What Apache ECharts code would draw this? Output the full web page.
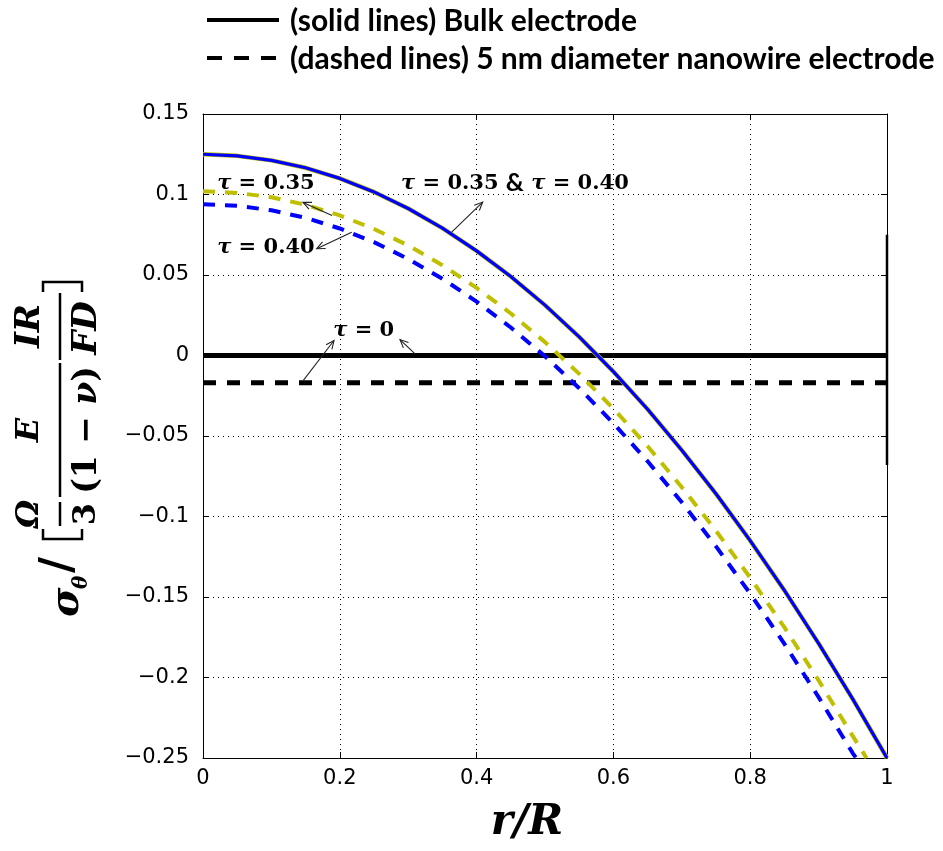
<!DOCTYPE html>
<html>
<head>
<meta charset="utf-8">
<script src="https://cdn.jsdelivr.net/npm/echarts@6/dist/echarts.min.js"></script>
<style>
  html, body { margin: 0; padding: 0; background: #fff; }
  #chart { width: 943px; height: 851px; }
</style>
</head>
<body>
<div id="chart"></div>
<script>
// Radial position r/R and normalised hoop stress for each case
const rBulk = [0, 0.05, 0.1, 0.15, 0.2, 0.25, 0.3, 0.35, 0.4, 0.45, 0.5, 0.55, 0.6, 0.65, 0.7, 0.75, 0.8, 0.85, 0.9, 0.95, 1];
// bulk electrode, tau = 0.35 and tau = 0.40 give the same profile
const sigmaBulkTau035 = [0.125, 0.124, 0.1212, 0.1166, 0.110, 0.1016, 0.0913, 0.0791, 0.065, 0.0491, 0.0313, 0.0116, -0.010, -0.0334, -0.0588, -0.0859, -0.115, -0.1459, -0.1788, -0.2134, -0.250];
const sigmaBulkTau040 = [0.125, 0.124, 0.1212, 0.1166, 0.110, 0.1016, 0.0913, 0.0791, 0.065, 0.0491, 0.0313, 0.0116, -0.010, -0.0334, -0.0588, -0.0859, -0.115, -0.1459, -0.1788, -0.2134, -0.250];

const rNanoTau035 = [0, 0.05, 0.1, 0.15, 0.2, 0.25, 0.3, 0.35, 0.4, 0.45, 0.5, 0.55, 0.6, 0.65, 0.7, 0.75, 0.8, 0.85, 0.9, 0.95, 0.97];
const sigmaNanoTau035 = [0.102, 0.101, 0.0983, 0.0936, 0.087, 0.0786, 0.0683, 0.0561, 0.042, 0.0261, 0.0083, -0.0114, -0.033, -0.0564, -0.0818, -0.1089, -0.138, -0.1689, -0.2018, -0.2364, -0.250];

const rNanoTau040 = [0, 0.05, 0.1, 0.15, 0.2, 0.25, 0.3, 0.35, 0.4, 0.45, 0.5, 0.55, 0.6, 0.65, 0.7, 0.75, 0.8, 0.85, 0.9, 0.95, 0.955];
const sigmaNanoTau040 = [0.094, 0.093, 0.0902, 0.0855, 0.0789, 0.0704, 0.060, 0.0477, 0.0335, 0.0174, -0.0005, -0.0203, -0.0421, -0.0657, -0.0912, -0.1186, -0.1479, -0.1791, -0.2122, -0.2471, -0.250];

// tau = 0: uniform profiles
const rTau0 = [0, 1];
const sigmaBulkTau0 = [0, 0];
const sigmaNanoTau0 = [-0.017, -0.017];

// short vertical segment on the outer surface r/R = 1
const rEdge = [1, 1];
const sigmaEdge = [0.075, -0.068];

// axis ticks
const xTicks = [0, 0.2, 0.4, 0.6, 0.8, 1];
const xTickLabels = ['0', '0.2', '0.4', '0.6', '0.8', '1'];
const yTicks = [-0.25, -0.2, -0.15, -0.1, -0.05, 0, 0.05, 0.1, 0.15];
const yTickLabels = ['\u22120.25', '\u22120.2', '\u22120.15', '\u22120.1', '\u22120.05', '0', '0.05', '0.1', '0.15'];

// annotation texts [r, sigma, text] and arrows [r1, s1, r2, s2] (head at r2, s2)
const noteTexts = [
  [0.092, 0.107, '{t|\u03c4}{n| = 0.35}'],
  [0.092, 0.067, '{t|\u03c4}{n| = 0.40}'],
  [0.456, 0.107, '{t|\u03c4}{n| = 0.35 }{a|&}{t| \u03c4}{n| = 0.40}'],
  [0.235, 0.0155, '{t|\u03c4}{n| = 0}']
];
const noteArrows = [
  [0.1886, 0.0870, 0.1462, 0.0951],
  [0.2174, 0.0766, 0.1662, 0.0663],
  [0.3636, 0.0766, 0.4089, 0.0953],
  [0.1467, -0.0155, 0.1915, 0.0093],
  [0.3100, 0.0010, 0.2880, 0.0099]
];

const zip = (xs, ys) => xs.map((x, i) => [x, ys[i]]);
const fmt = (ticks, labels) => (v) => {
  const i = ticks.findIndex(t => Math.abs(t - v) < 1e-9);
  return i >= 0 ? labels[i] : '';
};

const BLUE = '#0000ff';
const YELLOW = '#bfbf00';
const SERIF = '"DejaVu Serif", "Liberation Serif", serif';
const SANS = '"DejaVu Sans", "Liberation Sans", sans-serif';

const chart = echarts.init(document.getElementById('chart'), null, { renderer: 'canvas' });

const gridLine = { show: true, lineStyle: { color: '#000', width: 1, type: [1, 4] } };
const insideTick = { show: true, inside: true, length: 6, lineStyle: { color: '#000', width: 1 } };
const axisLineStyle = { show: true, onZero: false, lineStyle: { color: '#000', width: 1 } };

const curve = (name, xs, ys, color, width, dash, z) => ({
  name, type: 'line', data: zip(xs, ys), showSymbol: false, symbol: 'none',
  smooth: false, clip: true, z,
  lineStyle: { color, width, type: dash || 'solid', cap: 'butt', join: 'round' }
});

const option = {
  backgroundColor: '#fff',
  animation: false,
  grid: { left: 203, top: 114, right: 56, bottom: 93, containLabel: false },
  xAxis: [
    {
      type: 'value', min: 0, max: 1, interval: 0.2, position: 'bottom',
      axisLine: axisLineStyle, axisTick: insideTick, splitLine: gridLine,
      axisLabel: { color: '#000', fontSize: 21, fontFamily: SANS, margin: 10, formatter: fmt(xTicks, xTickLabels) }
    },
    {
      type: 'value', min: 0, max: 1, interval: 0.2, position: 'top',
      axisLine: axisLineStyle, axisTick: insideTick, splitLine: { show: false }, axisLabel: { show: false }
    }
  ],
  yAxis: [
    {
      type: 'value', min: -0.25, max: 0.15, interval: 0.05, position: 'left',
      axisLine: axisLineStyle, axisTick: insideTick, splitLine: gridLine,
      axisLabel: { color: '#000', fontSize: 21, fontFamily: SANS, margin: 14, formatter: fmt(yTicks, yTickLabels) }
    },
    {
      type: 'value', min: -0.25, max: 0.15, interval: 0.05, position: 'right',
      axisLine: axisLineStyle, axisTick: insideTick, splitLine: { show: false }, axisLabel: { show: false }
    }
  ],
  series: [
    curve('bulk tau=0', rTau0, sigmaBulkTau0, '#000', 5, 'solid', 3),
    curve('nanowire tau=0', rTau0, sigmaNanoTau0, '#000', 5, [13, 11], 3),
    curve('edge', rEdge, sigmaEdge, '#000', 2.5, 'solid', 3),
    curve('bulk tau=0.35', rBulk, sigmaBulkTau035, YELLOW, 4.5, 'solid', 4),
    curve('bulk tau=0.40', rBulk, sigmaBulkTau040, BLUE, 3.2, 'solid', 5),
    curve('nanowire tau=0.35', rNanoTau035, sigmaNanoTau035, YELLOW, 4, [12, 10], 4),
    curve('nanowire tau=0.40', rNanoTau040, sigmaNanoTau040, BLUE, 4, [12, 10], 4),
    {
      name: 'arrows', type: 'custom', z: 6, silent: true, clip: false,
      data: noteArrows,
      encode: { x: [0, 2], y: [1, 3] },
      renderItem: (params, api) => {
        const p1 = api.coord([api.value(0), api.value(1)]);
        const p2 = api.coord([api.value(2), api.value(3)]);
        const ang = Math.atan2(p2[1] - p1[1], p2[0] - p1[0]);
        const L = 9, spread = 0.42;
        const a1 = [p2[0] - L * Math.cos(ang - spread), p2[1] - L * Math.sin(ang - spread)];
        const a2 = [p2[0] - L * Math.cos(ang + spread), p2[1] - L * Math.sin(ang + spread)];
        const st = { stroke: '#222', lineWidth: 1.1, fill: null };
        return {
          type: 'group',
          children: [
            { type: 'line', shape: { x1: p1[0], y1: p1[1], x2: p2[0], y2: p2[1] }, style: st },
            { type: 'polyline', shape: { points: [a1, p2, a2] }, style: st }
          ]
        };
      }
    },
    {
      name: 'notes', type: 'scatter', z: 7, silent: true, symbolSize: 0,
      itemStyle: { opacity: 1 },
      data: noteTexts,
      label: {
        show: true, position: 'inside', color: '#000', opacity: 1, textBorderWidth: 0,
        formatter: (p) => p.data[2],
        rich: {
          t: { fontFamily: SERIF, fontWeight: 'bold', fontStyle: 'italic', fontSize: 21, color: '#000' },
          n: { fontFamily: SERIF, fontWeight: 'bold', fontSize: 21, color: '#000' },
          a: { fontFamily: 'Lato, ' + SANS, fontWeight: 'bold', fontSize: 25, color: '#000' }
        }
      }
    }
  ],
  graphic: [
    // top key for line styles
    { type: 'line', shape: { x1: 207, y1: 20, x2: 279, y2: 20 }, style: { stroke: '#000', lineWidth: 4 } },
    { type: 'line', shape: { x1: 207, y1: 58, x2: 279, y2: 58 }, style: { stroke: '#000', lineWidth: 4, lineDash: [15, 12] } },
    { type: 'text', x: 290, y: 21, style: { text: '(solid lines) Bulk electrode', font: 'bold 30px Lato, sans-serif', fill: '#000', verticalAlign: 'middle' } },
    { type: 'text', x: 290, y: 59, style: { text: '(dashed lines) 5 nm diameter nanowire electrode', font: 'bold 30px Lato, sans-serif', fill: '#000', verticalAlign: 'middle' } },
    // x-axis title
    {
      type: 'text', x: 527, y: 823,
      style: { text: 'r/R', font: 'bold italic 42px ' + SERIF, fill: '#000', align: 'center', verticalAlign: 'middle' }
    },
    // y-axis title, written along the rotated baseline
    {
      type: 'group', x: 60, y: 617, rotation: Math.PI / 2,
      children: [
        { type: 'text', x: 0, y: 8, style: { text: '\u03c3', font: 'bold italic 40px ' + SERIF, fill: '#000', align: 'left', verticalAlign: 'middle' } },
        { type: 'text', x: 28, y: 22, style: { text: '\u03b8', font: 'bold italic 20px ' + SERIF, fill: '#000', align: 'left', verticalAlign: 'middle' } },
        { type: 'text', x: 44, y: 0, style: { text: '/', font: 'bold 44px ' + SERIF, fill: '#000', align: 'left', verticalAlign: 'middle' } },
        // opening bracket
        { type: 'polyline', shape: { points: [[88, -17], [78, -17], [78, 22], [88, 22]] }, style: { stroke: '#000', lineWidth: 2.5, fill: null } },
        // Omega / 3
        { type: 'text', x: 103, y: -30, style: { text: '\u03a9', font: 'bold italic 32px ' + SERIF, fill: '#000', align: 'center', verticalAlign: 'middle' } },
        { type: 'line', shape: { x1: 91, y1: 0, x2: 115, y2: 0 }, style: { stroke: '#000', lineWidth: 2.5 } },
        { type: 'text', x: 103, y: 27, style: { text: '3', font: 'bold 32px ' + SERIF, fill: '#000', align: 'center', verticalAlign: 'middle' } },
        // E / (1 - nu)
        { type: 'text', x: 187, y: -30, style: { text: 'E', font: 'bold italic 32px ' + SERIF, fill: '#000', align: 'center', verticalAlign: 'middle' } },
        { type: 'line', shape: { x1: 120, y1: 0, x2: 254, y2: 0 }, style: { stroke: '#000', lineWidth: 2.5 } },
        {
          type: 'text', x: 187, y: 27,
          style: {
            text: '(1 \u2212 {i|\u03bd})', font: 'bold 33px ' + SERIF, fill: '#000', align: 'center', verticalAlign: 'middle',
            rich: { i: { font: 'bold italic 33px ' + SERIF, fill: '#000' } }
          }
        },
        // IR / FD
        { type: 'text', x: 291, y: -30, style: { text: 'IR', font: 'bold italic 34px ' + SERIF, fill: '#000', align: 'center', verticalAlign: 'middle' } },
        { type: 'line', shape: { x1: 257, y1: 0, x2: 324, y2: 0 }, style: { stroke: '#000', lineWidth: 2.5 } },
        { type: 'text', x: 289, y: 27, style: { text: 'FD', font: 'bold italic 34px ' + SERIF, fill: '#000', align: 'center', verticalAlign: 'middle' } },
        // closing bracket
        { type: 'polyline', shape: { points: [[325, -17], [335, -17], [335, 22], [325, 22]] }, style: { stroke: '#000', lineWidth: 2.5, fill: null } }
      ]
    }
  ]
};

chart.setOption(option);
</script>
</body>
</html>
